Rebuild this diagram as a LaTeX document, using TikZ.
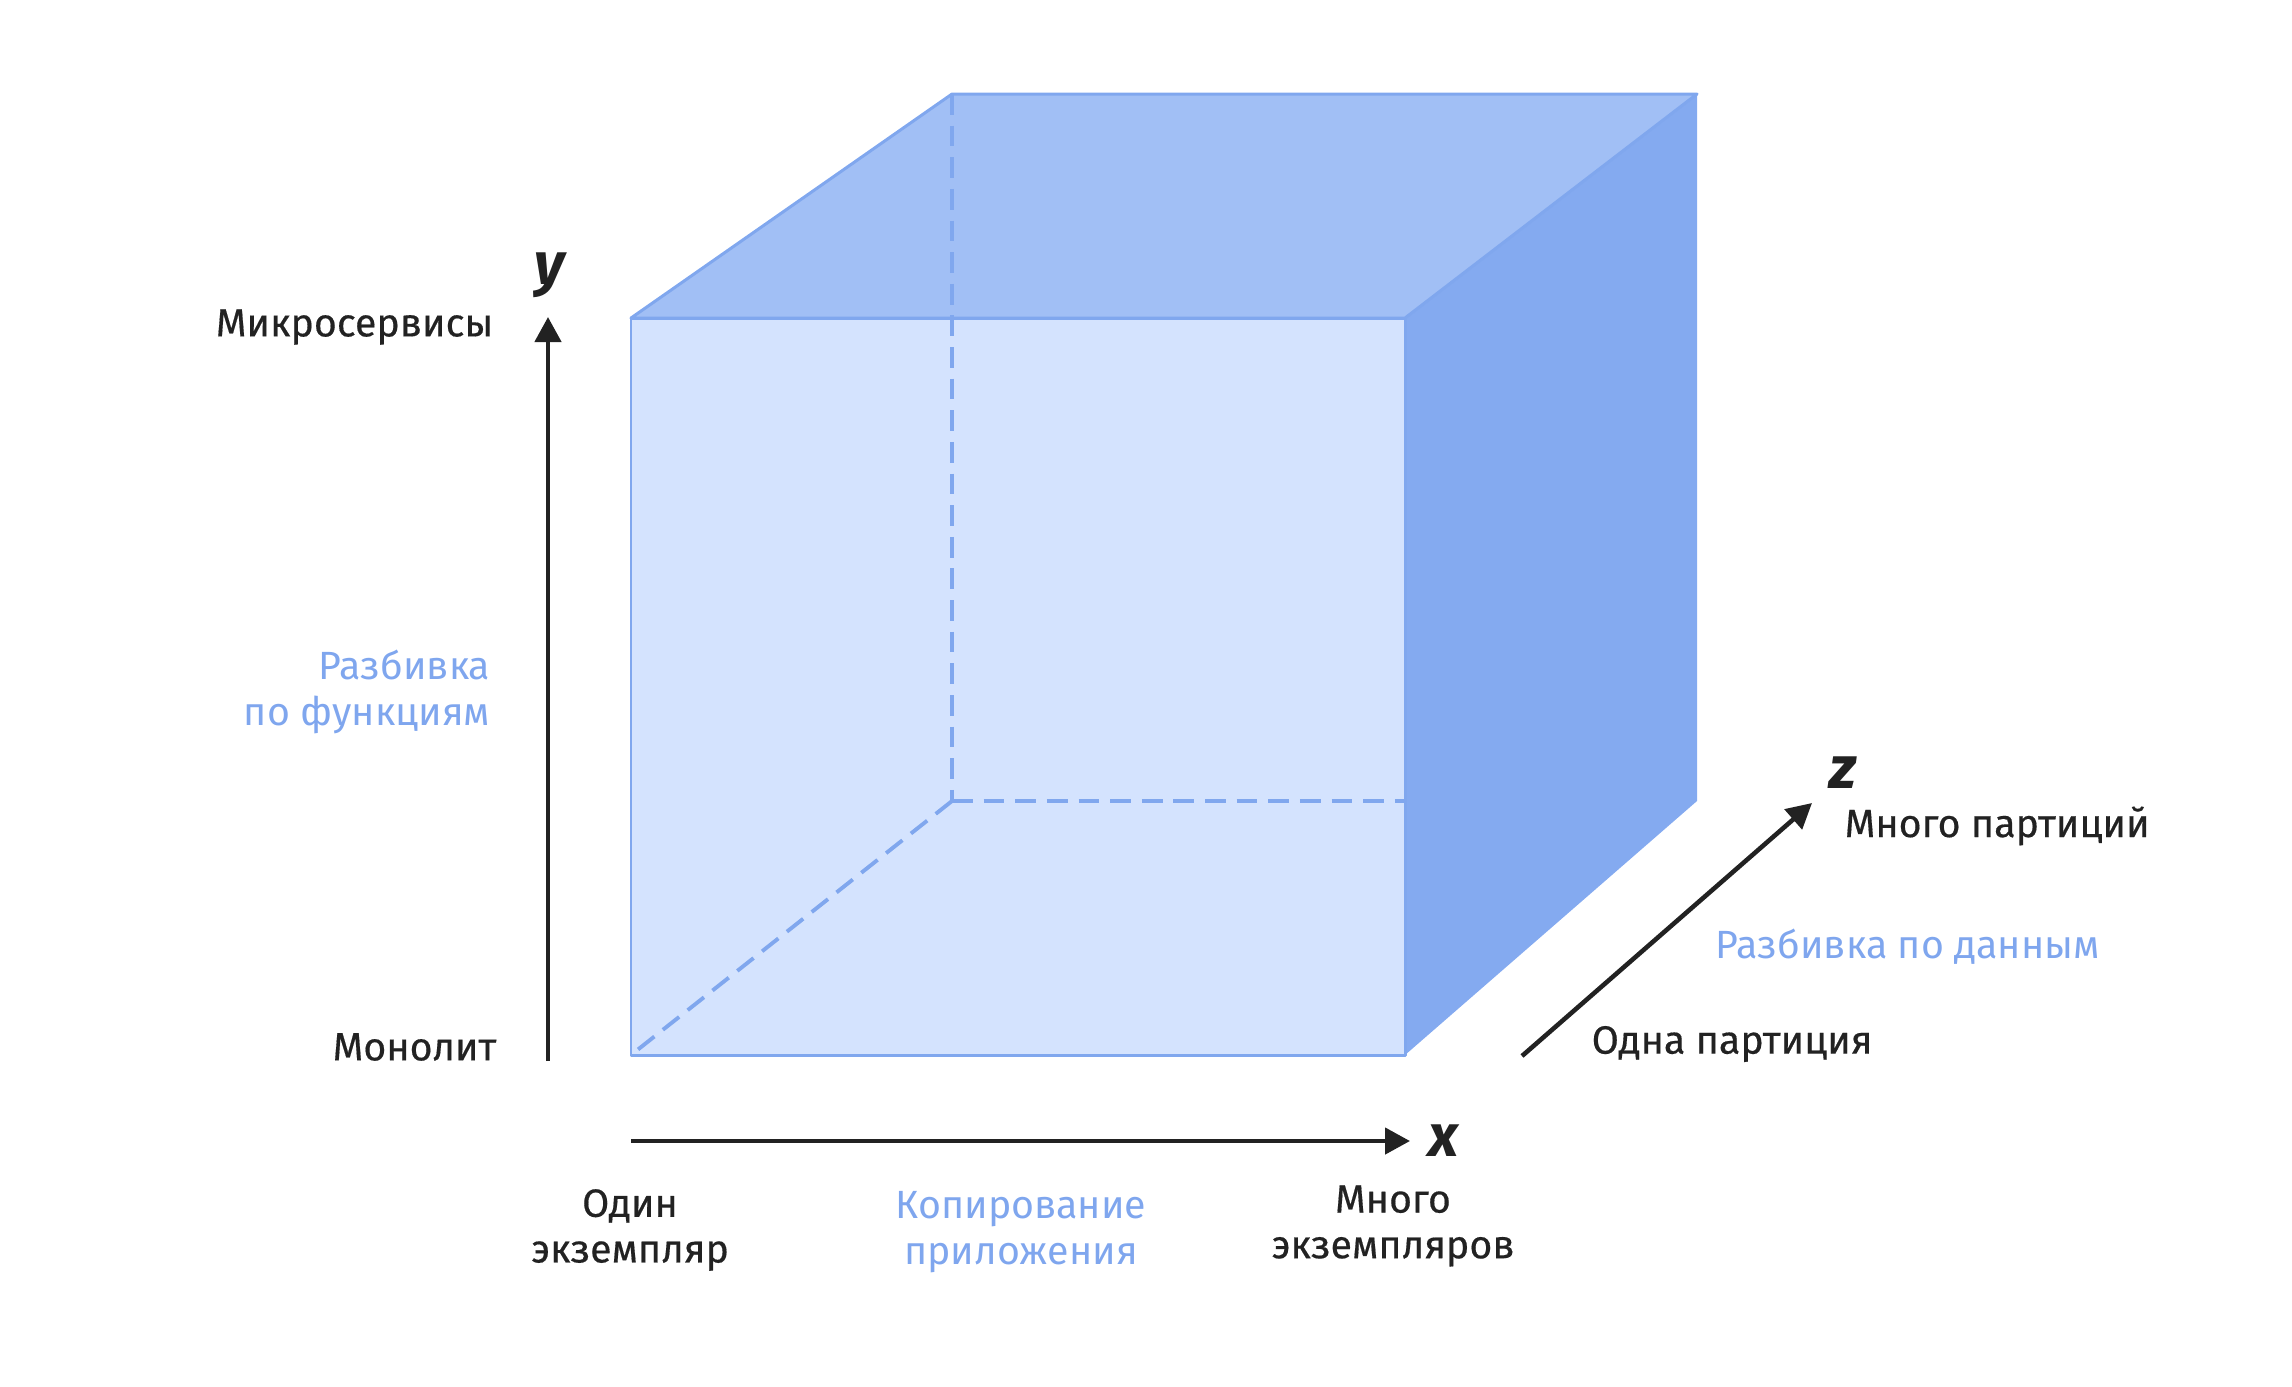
\documentclass[tikz,border=0pt]{standalone}
\usepackage{fontspec}
\setmainfont{Fira Sans}
\newfontfamily\medfont{Fira Sans}[FakeBold=0.4]
\usepackage{tikz}
\usetikzlibrary{arrows.meta}
\definecolor{frontFill}{HTML}{D4E3FE}
\definecolor{topFill}{HTML}{A1BFF5}
\definecolor{sideFill}{HTML}{84AAF0}
\definecolor{edgeBlue}{HTML}{80A7EE}
\definecolor{textBlue}{HTML}{7FA6EE}
\definecolor{axisBlack}{HTML}{222222}

\begin{document}
\begin{tikzpicture}[x=0.1mm, y=-0.1mm,
cubeEdge/.style = {draw=edgeBlue, line width=0.85pt, line join=round},
frontFace/.style = {cubeEdge, fill=frontFill},
topFace/.style = {cubeEdge, fill=topFill},
sideFace/.style = {fill=sideFill},
hidden/.style = {draw=edgeBlue, line width=1.1pt, dash pattern={on 5.9pt off 3.1pt}},
axis/.style = {draw=axisBlack, line width=1.3pt, -{Triangle[length=0.25cm, width=0.26cm]}},
labelBlack/.style = {inner sep=0, text=axisBlack, font=\medfont\fontsize{11.2}{13}\selectfont},
labelBlue/.style = {inner sep=0, text=textBlue, font=\fontsize{11.2}{13}\selectfont},
axisLabel/.style = {inner sep=0, text=axisBlack, font=\bfseries\itshape\fontsize{17}{17}\selectfont}]
\useasboundingbox (0,0) rectangle (2292,1386);

% cube corners
\coordinate (FBL) at (631,1055);
\coordinate (FBR) at (1405,1055);
\coordinate (FTL) at (631,318);
\coordinate (FTR) at (1405,318);
\coordinate (BBL) at (952,801);
\coordinate (BBR) at (1697,801);
\coordinate (BTL) at (952,94);
\coordinate (BTR) at (1697,94);

\fill[sideFace] (FTR) -- (BTR) -- (BBR) -- (FBR) -- cycle;
\path[topFace] (FTL) -- (BTL) -- (BTR) -- (FTR) -- cycle;
\path[frontFace] (FTL) -- (FTR) -- (FBR) -- (FBL) -- cycle;

\draw[hidden] (BTL) -- (BBL);
\draw[hidden] (BBL) -- (BBL -| FBR);
\draw[hidden] (BBL) -- (FBL);

% axes
\coordinate (y0) at (548,1061);
\coordinate (y1) at (548,317);
\coordinate (x0) at (631,1141);
\coordinate (x1) at (1410,1141);
\coordinate (z0) at (1522,1056);
\coordinate (z1) at (1812,803);
\draw[axis] (y0) -- (y1);
\draw[axis] (x0) -- (x1);
\draw[axis] (z0) -- (z1);

\node[axisLabel] (yLab) at (550,275) {y};
\node[axisLabel] (xLab) at (1444,1141) {x};
\node[axisLabel] (zLab) at (1843,773) {z};

\node[labelBlack, anchor=east] (micro) at (494,327) {Микросервисы};
\node[labelBlack, anchor=east] (mono) at (497,1047) {Монолит};
\node[labelBlue, anchor=east, align=right] (funcSplit) at (491,692) {Разбивка\\по функциям};

\node[labelBlack, align=center] (oneInst) at (630,1230) {Один\\экземпляр};
\node[labelBlue, align=center] (copyApp) at (1021,1232) {Копирование\\приложения};
\node[labelBlack, align=center] (manyInst) at (1393,1226) {Много\\экземпляров};

\node[labelBlack, anchor=west] (manyPart) at (1844,826) {Много партиций};
\node[labelBlue, anchor=west] (dataSplit) at (1715,947) {Разбивка по данным};
\node[labelBlack, anchor=west] (onePart) at (1591,1044) {Одна партиция};

\end{tikzpicture}
\end{document}
